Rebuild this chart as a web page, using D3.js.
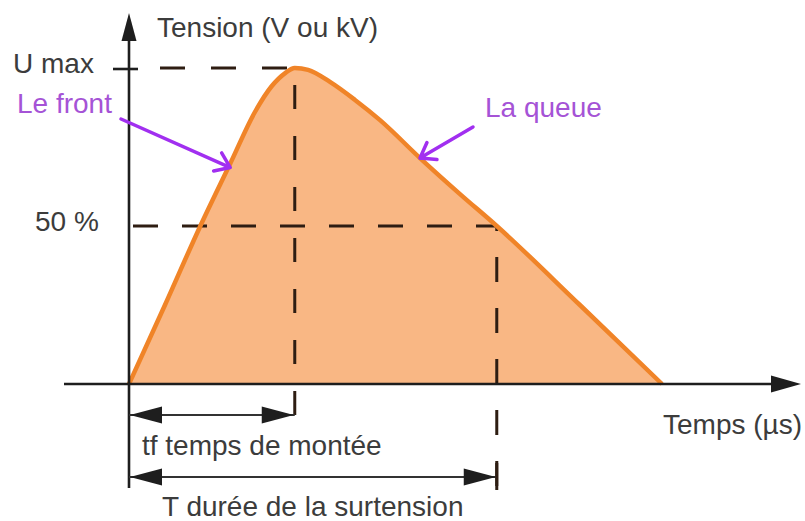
<!DOCTYPE html>
<html>
<head>
<meta charset="utf-8">
<script src="https://cdn.jsdelivr.net/npm/d3@7"></script>
<style>
  body { margin: 0; background: #fff; }
  svg { display: block; }
</style>
</head>
<body>
<svg id="chart"></svg>
<script>
// onde de surtension (unites arbitraires : temps 0..100, tension en % de U max)
const timeUs = [0, 6.75, 13.3, 18.95, 23.6, 26.8, 29.3, 31.1, 33.6, 37.7, 42.4, 47.1, 54.6, 62.1, 69.0, 84.6, 100];
const tension = [0, 25, 49.7, 69.6, 86, 94.3, 98.4, 100, 99.4, 95.6, 89.9, 83.5, 71.5, 60.1, 50, 25, 0];
const levelValues = [100, 50];
const levelLabels = ['U max', '50 %'];
const tfTime = 31.1;   // temps de montee
const TTime = 69.0;    // duree de la surtension

const chartWave = () => {
    const width = 805;
    const height = 521;
    const font = '"Liberation Sans", Arial, sans-serif';
    const ink = '#1e1e1e';
    const dash = '#2e1d12';
    const purple = '#a12ff0';

    const x = d3.scaleLinear().domain([0, 100]).range([129, 662]);
    const y = d3.scaleLinear().domain([0, 100]).range([384, 68]);

    const svg = d3.select('#chart')
        .attr('width', width)
        .attr('height', height)
        .attr('viewBox', [0, 0, width, height])
        .style('font-family', font);

    svg.append('rect').attr('width', width).attr('height', height).attr('fill', '#fff');

    const pts = timeUs.map((t, i) => ({ t: t, v: tension[i] }));

    // surface sous la courbe
    const area = d3.area()
        .x(d => x(d.t))
        .y0(y(0))
        .y1(d => y(d.v))
        .curve(d3.curveMonotoneX);
    svg.append('path')
        .datum(pts)
        .attr('d', area)
        .attr('fill', '#f9b784');

    // pointilles
    const g = svg.append('g')
        .attr('stroke', dash)
        .attr('stroke-width', 3)
        .attr('fill', 'none');
    // U max
    g.append('line')
        .attr('x1', x(0) + 31).attr('x2', x(tfTime))
        .attr('y1', y(100)).attr('y2', y(100))
        .attr('stroke-dasharray', '25,26');
    // 50 %
    g.append('line')
        .attr('x1', x(0) + 4).attr('x2', x(TTime))
        .attr('y1', y(50)).attr('y2', y(50))
        .attr('stroke-dasharray', '25,24');
    // verticale tf
    g.append('line')
        .attr('x1', x(tfTime)).attr('x2', x(tfTime))
        .attr('y1', y(100) + 17).attr('y2', 415)
        .attr('stroke-dasharray', '24,27');
    // verticale T
    g.append('line')
        .attr('x1', x(TTime)).attr('x2', x(TTime))
        .attr('y1', y(50) - 1).attr('y2', 490)
        .attr('stroke-dasharray', '25,26')
        .attr('stroke-dashoffset', 19);

    // courbe
    const line = d3.line()
        .x(d => x(d.t))
        .y(d => y(d.v))
        .curve(d3.curveMonotoneX);
    svg.append('path')
        .datum(pts)
        .attr('d', line)
        .attr('fill', 'none')
        .attr('stroke', '#f08428')
        .attr('stroke-width', 4.5)
        .attr('stroke-linejoin', 'round');

    // axes
    const axes = svg.append('g').attr('stroke', ink).attr('stroke-width', 2.6);
    axes.append('line')
        .attr('x1', x(0)).attr('x2', x(0))
        .attr('y1', 38).attr('y2', 488);
    axes.append('line')
        .attr('x1', 64).attr('x2', 776)
        .attr('y1', y(0)).attr('y2', y(0));
    // graduation U max
    axes.append('line')
        .attr('x1', x(0) - 16).attr('x2', x(0) + 9)
        .attr('y1', y(100) + 1).attr('y2', y(100) + 1);

    const head = (px, py, dx, dy, len, half, color) => {
        // pointe en (px,py), direction (dx,dy)
        const bx = px - dx * len, by = py - dy * len;
        const nx = -dy * half, ny = dx * half;
        svg.append('path')
            .attr('d', `M${px},${py}L${bx + nx},${by + ny}L${bx - nx},${by - ny}Z`)
            .attr('fill', color);
    };
    head(x(0), 13, 0, -1, 28, 7.5, ink);
    head(801, y(0), 1, 0, 30, 8.5, ink);

    // cotes tf et T
    const dims = [
        { to: tfTime, yy: 415 },
        { to: TTime, yy: 477 }
    ];
    dims.forEach(d => {
        svg.append('line')
            .attr('x1', x(0)).attr('x2', x(d.to))
            .attr('y1', d.yy).attr('y2', d.yy)
            .attr('stroke', '#333')
            .attr('stroke-width', 2);
        head(x(0) + 1, d.yy, -1, 0, 32, 8.5, ink);
        head(x(d.to) - 1, d.yy, 1, 0, 32, 8.5, ink);
    });
    svg.append('line')
        .attr('x1', x(TTime)).attr('x2', x(TTime))
        .attr('y1', 463).attr('y2', 490)
        .attr('stroke', dash).attr('stroke-width', 3);

    // fleches violettes
    const pointer = (fx, fy, tx, ty) => {
        const a = Math.atan2(ty - fy, tx - fx);
        const arm = 17, spread = 0.62;
        svg.append('path')
            .attr('d', `M${fx},${fy}L${tx},${ty}`
                + `M${tx - arm * Math.cos(a - spread)},${ty - arm * Math.sin(a - spread)}L${tx},${ty}`
                + `L${tx - arm * Math.cos(a + spread)},${ty - arm * Math.sin(a + spread)}`)
            .attr('fill', 'none')
            .attr('stroke', purple)
            .attr('stroke-width', 3.5)
            .attr('stroke-linecap', 'round')
            .attr('stroke-linejoin', 'round');
    };
    pointer(121, 119, x(19), y(68.5));
    pointer(473, 127, x(54.6), y(71.5));

    // textes
    const txt = (s, tx, ty, color) => svg.append('text')
        .attr('x', tx).attr('y', ty)
        .attr('font-size', 28)
        .attr('fill', color)
        .text(s);
    const grey = '#3c3c3c';
    const violet = '#a553d6';
    txt('Tension (V ou kV)', 157, 37, grey);
    const labelX = [13, 35];
    levelLabels.forEach((lab, i) => {
        txt(lab, labelX[i], y(levelValues[i]) + 5, grey);
    });
    txt('Le front', 17, 113, violet);
    txt('La queue', 485, 117, violet);
    txt('Temps (µs)', 663, 434, grey);
    txt('tf temps de montée', 142, 455, grey);
    txt('T durée de la surtension', 162, 516, grey);

    return svg.node();
};

chartWave();
</script>
</body>
</html>
